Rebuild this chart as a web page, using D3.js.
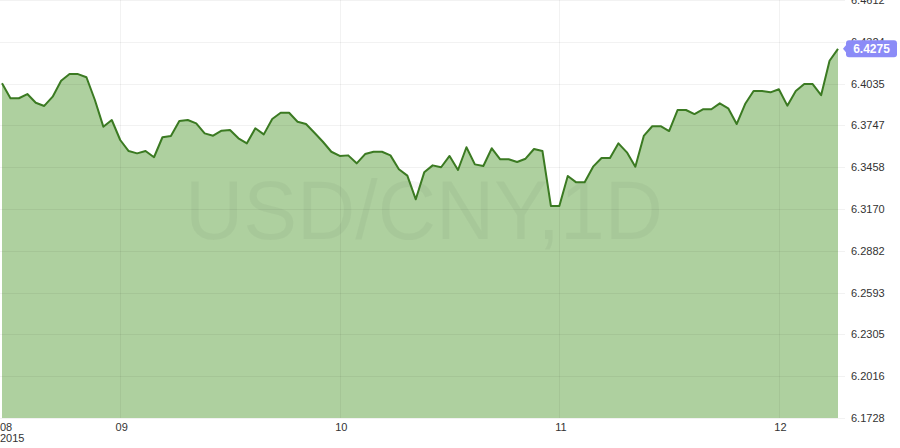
<!DOCTYPE html>
<html><head><meta charset="utf-8">
<script src="https://cdn.jsdelivr.net/npm/d3@7"></script>
<style>html,body{margin:0;padding:0;background:#fff;} svg{display:block;font-family:"Liberation Sans",Arial,sans-serif;}</style>
</head><body><svg id="c" width="900" height="448"></svg>
<script>
const dates = [
"2015-08-16","2015-08-17","2015-08-18","2015-08-19","2015-08-20","2015-08-21","2015-08-23","2015-08-24","2015-08-25","2015-08-26","2015-08-27","2015-08-28","2015-08-30","2015-08-31",
"2015-09-01","2015-09-02","2015-09-03","2015-09-04","2015-09-06","2015-09-07","2015-09-08","2015-09-09","2015-09-10","2015-09-11","2015-09-13","2015-09-14","2015-09-15","2015-09-16","2015-09-17","2015-09-18","2015-09-20","2015-09-21","2015-09-22","2015-09-23","2015-09-24","2015-09-25","2015-09-27","2015-09-28","2015-09-29","2015-09-30",
"2015-10-01","2015-10-02","2015-10-04","2015-10-05","2015-10-06","2015-10-07","2015-10-08","2015-10-09","2015-10-11","2015-10-12","2015-10-13","2015-10-14","2015-10-15","2015-10-16","2015-10-18","2015-10-19","2015-10-20","2015-10-21","2015-10-22","2015-10-23","2015-10-25","2015-10-26","2015-10-27","2015-10-28","2015-10-29","2015-10-30",
"2015-11-01","2015-11-02","2015-11-03","2015-11-04","2015-11-05","2015-11-06","2015-11-08","2015-11-09","2015-11-10","2015-11-11","2015-11-12","2015-11-13","2015-11-15","2015-11-16","2015-11-17","2015-11-18","2015-11-19","2015-11-20","2015-11-22","2015-11-23","2015-11-24","2015-11-25","2015-11-26","2015-11-27","2015-11-29","2015-11-30",
"2015-12-01","2015-12-02","2015-12-03","2015-12-04","2015-12-06","2015-12-07","2015-12-08","2015-12-09"
];
const values = [
6.4037,6.3934,6.3934,6.3963,6.3903,6.3881,6.3945,6.4055,6.4101,6.4101,6.4079,6.3922,6.3738,6.3784,
6.3646,6.3570,6.3554,6.3570,6.3527,6.3665,6.3674,6.3777,6.3784,6.3761,6.3692,6.3676,6.3710,6.3715,6.3658,6.3623,6.3727,6.3685,6.3791,6.3834,6.3834,6.3772,6.3756,6.3696,6.3634,6.3565,
6.3536,6.3540,6.3485,6.3549,6.3565,6.3565,6.3540,6.3444,6.3400,6.3237,6.3423,6.3471,6.3458,6.3536,6.3439,6.3596,6.3478,6.3467,6.3589,6.3513,6.3513,6.3494,6.3517,6.3584,6.3570,6.3191,
6.3191,6.3398,6.3354,6.3354,6.3462,6.3522,6.3522,6.3623,6.3561,6.3462,6.3674,6.3741,6.3741,6.3708,6.3853,6.3853,6.3825,6.3858,6.3858,6.3899,6.3865,6.3756,6.3894,6.3984,6.3984,6.3975,
6.3996,6.3883,6.3984,6.4032,6.4032,6.3955,6.4193,6.4275
];
const yTicks = [6.4612, 6.4324, 6.4035, 6.3747, 6.3458, 6.3170, 6.2882, 6.2593, 6.2305, 6.2016, 6.1728];
const monthTickDates = ["2015-09-01","2015-10-01","2015-11-01","2015-12-01"];
const monthLabels = ["09","10","11","12"];
const firstLabel = ["08","2015"];
const symbolText = "USD/CNY,1D";

const svg = d3.select("#c");
const plotRight = 845, plotBottom = 418;
const x = d3.scalePoint().domain(dates).range([2, 838]);
const y = d3.scaleLinear().domain([6.1728, 6.4612]).range([plotBottom, 0]);
const data = dates.map((d,i)=>({d, v: values[i]}));

// area fill
svg.append("path").datum(data)
  .attr("d", d3.area().x(p=>x(p.d)).y0(plotBottom).y1(p=>y(p.v)))
  .attr("fill", "#aed09f");

// watermark
svg.append("text").text(symbolText)
  .attr("x", 424).attr("y", 239).attr("text-anchor","middle")
  .attr("font-size", 84).attr("textLength", 478).attr("lengthAdjust","spacingAndGlyphs")
  .attr("fill", "rgba(0,0,0,0.035)");

// gridlines
svg.append("g").selectAll("line").data(yTicks).join("line")
  .attr("x1", 0).attr("x2", plotRight)
  .attr("y1", d=>Math.round(y(d))+0.5).attr("y2", d=>Math.round(y(d))+0.5)
  .attr("stroke", "rgba(0,0,0,0.05)");
svg.append("g").selectAll("line").data(monthTickDates).join("line")
  .attr("x1", d=>Math.round(x(d))+0.5).attr("x2", d=>Math.round(x(d))+0.5)
  .attr("y1", 0).attr("y2", plotBottom)
  .attr("stroke", "rgba(0,0,0,0.05)");

// line
svg.append("path").datum(data)
  .attr("d", d3.line().x(p=>x(p.d)).y(p=>y(p.v)))
  .attr("fill", "none").attr("stroke", "#3b7a22").attr("stroke-width", 2)
  .attr("stroke-linejoin","round");

// y axis
const yAxis = svg.append("g").attr("transform", `translate(${plotRight},0)`)
  .call(d3.axisRight(y).tickValues(yTicks).tickSize(0).tickPadding(6).tickFormat(d3.format(".4f")));
yAxis.select(".domain").remove();
yAxis.selectAll("text").attr("font-size", 11).attr("fill", "#333").attr("font-family", '"Liberation Sans",Arial,sans-serif');

// x axis
const xAxis = svg.append("g").attr("transform", `translate(1,${plotBottom})`)
  .call(d3.axisBottom(x).tickValues(monthTickDates).tickSize(0).tickPadding(5)
    .tickFormat((d,i)=>monthLabels[i]));
xAxis.select(".domain").remove();
xAxis.selectAll("text").attr("font-size", 11).attr("fill", "#333").attr("font-family", '"Liberation Sans",Arial,sans-serif');

svg.append("text").attr("x", 0).attr("y", 431).attr("font-size", 11).attr("fill", "#333").text(firstLabel[0]);
svg.append("text").attr("x", 0).attr("y", 442).attr("font-size", 11).attr("fill", "#333").text(firstLabel[1]);

// price label
const last = data[data.length-1];
const ly = y(last.v);
const tag = svg.append("g").attr("transform", `translate(0,${ly})`);
tag.append("path")
  .attr("d", "M843,0 L848,-6 L848,6 Z").attr("fill", "#8b8bf7");
tag.append("rect").attr("x", 846).attr("y", -8.5).attr("width", 51).attr("height", 17).attr("rx", 3)
  .attr("fill", "#8b8bf7");
tag.append("text").attr("x", 871.5).attr("y", 0).attr("dy", "0.35em")
  .attr("text-anchor","middle").attr("font-size", 12).attr("font-weight","bold").attr("fill","#fff")
  .text(d3.format(".4f")(last.v));
</script></body></html>
